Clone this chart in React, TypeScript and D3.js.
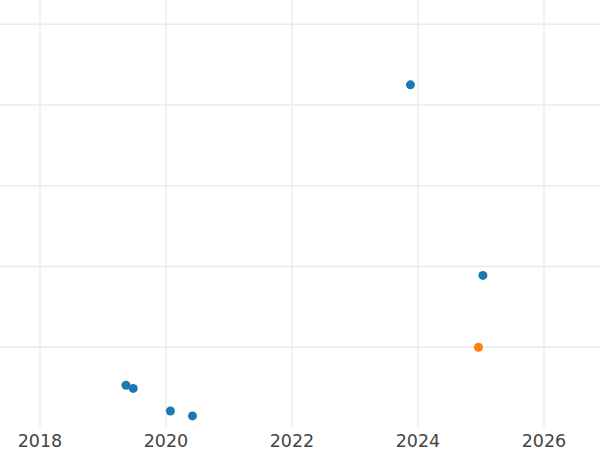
import React from "react";
import * as d3 from "d3";

const blueYears = [2019.365, 2019.48, 2020.07, 2020.42, 2023.88, 2025.03];
const blueValues = [0.53, 0.49, 0.21, 0.15, 4.25, 1.89];
const orangeYears = [2024.96];
const orangeValues = [1.0];
const xTickValues = [2018, 2020, 2022, 2024, 2026];
const yTickValues = [1, 2, 3, 4, 5];

const W = 600;
const H = 450;
const plotBottom = 427.5;

export default function App() {
  const x = d3.scaleLinear().domain([2018, 2020]).range([40, 166]);
  const y = d3.scaleLinear().domain([0, 4]).range([428, 105]);

  const blue = blueYears.map((yr, i) => ({ x: yr, y: blueValues[i] }));
  const orange = orangeYears.map((yr, i) => ({ x: yr, y: orangeValues[i] }));

  return (
    <svg
      width={W}
      height={H}
      style={{ position: "absolute", left: 0, top: 0, background: "#fff" }}
      fontFamily="DejaVu Sans, sans-serif"
    >
      <rect x={0} y={0} width={W} height={H} fill="#fff" />
      <g stroke="#ebebeb" strokeWidth={1.4}>
        {xTickValues.map((t) => (
          <line key={"gx" + t} x1={x(t)} x2={x(t)} y1={0} y2={plotBottom} />
        ))}
        {yTickValues.map((t) => (
          <line key={"gy" + t} x1={0} x2={W} y1={y(t)} y2={y(t)} />
        ))}
      </g>
      <g>
        {blue.map((d, i) => (
          <circle key={"b" + i} cx={x(d.x)} cy={y(d.y)} r={4.5} fill="#1f77b4" />
        ))}
        {orange.map((d, i) => (
          <circle key={"o" + i} cx={x(d.x)} cy={y(d.y)} r={4.5} fill="#ff7f0e" />
        ))}
      </g>
      <g fill="#444" fontSize={17.5} textAnchor="middle">
        {xTickValues.map((t) => (
          <text key={"tx" + t} x={x(t)} y={447}>
            {t}
          </text>
        ))}
      </g>
    </svg>
  );
}
